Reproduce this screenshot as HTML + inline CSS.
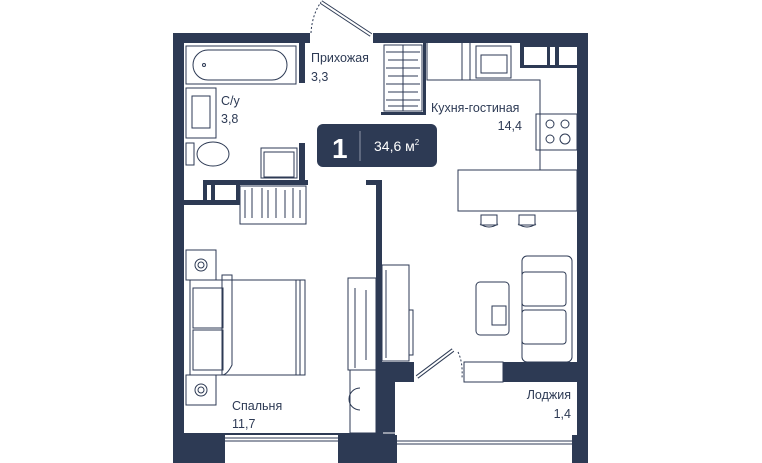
<!DOCTYPE html>
<html><head><meta charset="utf-8"><style>
html,body{margin:0;padding:0;background:#fff;width:762px;height:463px;overflow:hidden}
svg{display:block}
text{font-family:"Liberation Sans",sans-serif;fill:#2d3a54;font-size:12.5px}
</style></head><body>
<svg width="762" height="463" viewBox="0 0 762 463" xmlns="http://www.w3.org/2000/svg">
<g fill="#2d3a54">
<!-- outer walls -->
<rect x="173" y="33" width="137" height="10"/>
<rect x="373" y="33" width="215" height="10"/>
<rect x="173" y="33" width="11" height="430"/>
<rect x="577" y="33" width="11" height="430"/>
<rect x="520" y="43" width="57" height="25"/>
<rect x="173" y="433" width="210" height="30"/>
<rect x="173" y="435" width="415" height="28"/>
<!-- bath partitions -->
<rect x="299" y="43" width="6" height="40"/>
<rect x="299" y="143" width="6" height="42"/>
<rect x="203" y="180" width="105" height="5"/>
<rect x="184" y="200" width="56" height="5"/>
<rect x="203" y="180" width="4" height="25"/>
<rect x="211" y="180" width="4" height="25"/>
<rect x="236" y="180" width="4" height="25"/>
<!-- hallway/bedroom wall -->
<rect x="366" y="180" width="15" height="5"/>
<rect x="376" y="180" width="6" height="283"/>
<!-- loggia surroundings -->
<rect x="377" y="362" width="37" height="20"/>
<rect x="377" y="362" width="18" height="101"/>
<rect x="503" y="362" width="74" height="20"/>
<!-- wardrobe edge -->
<rect x="423" y="43" width="3" height="72"/>
<rect x="381" y="112" width="45" height="3"/>
</g>
<g fill="#fff">
<rect x="524" y="47" width="23" height="18"/>
<rect x="550" y="47" width="5" height="18"/>
<rect x="559" y="47" width="18" height="18"/>
<rect x="208" y="185" width="2" height="15"/>
<rect x="216" y="185" width="19" height="15"/>
<rect x="225" y="435" width="113" height="28"/>
<rect x="397" y="435" width="175" height="28"/>
<rect x="395" y="382" width="182" height="53"/>
</g>
<g fill="none" stroke="#2d3a54" stroke-width="1">
<line x1="225" y1="438" x2="338" y2="438"/><line x1="225" y1="441" x2="338" y2="441"/>
<line x1="397" y1="441" x2="572" y2="441"/><line x1="397" y1="444" x2="572" y2="444"/>
<line x1="383" y1="433" x2="577" y2="433" stroke="#fff"/>
<!-- entrance door -->
<line x1="321" y1="2" x2="371" y2="35" stroke-width="4"/>
<line x1="321" y1="2" x2="371" y2="35" stroke="#fff" stroke-width="2"/>
<path d="M311 33 Q312 15 321 2" stroke-dasharray="2 2"/>
<!-- bath -->
<rect x="186" y="46" width="110" height="38"/>
<rect x="193" y="50" width="94" height="30" rx="15"/>
<circle cx="204" cy="65" r="1.5"/>
<!-- sink -->
<rect x="186" y="88" width="30" height="50"/>
<rect x="192" y="96" width="18" height="32"/>
<!-- toilet -->
<rect x="186" y="143" width="8" height="22"/>
<ellipse cx="213" cy="154" rx="16" ry="12"/>
<!-- washer -->
<rect x="261" y="148" width="36" height="30"/>
<rect x="264" y="152" width="30" height="25"/>
<rect x="240" y="186" width="66" height="38"/>
<path d="M245 190v28M252 188v30M262 188v30M268 190v28M276 188v30M285 190v28M293 188v30M300 190v28"/>
<!-- wardrobe hallway -->
<rect x="384" y="45" width="38" height="66"/>
<path d="M386 52h34M388 60h30M386 68h34M388 76h30M386 84h34M388 92h30M386 100h34M388 106h30M403 45v66"/>
<!-- kitchen -->
<path d="M427 43V80H540V170"/>
<path d="M427 80v-37M462 43v37M470 43v37"/>
<rect x="476" y="46" width="35" height="32"/>
<rect x="481" y="55" width="26" height="18"/>
<rect x="536" y="114" width="41" height="36"/>
<circle cx="550" cy="124" r="4"/><circle cx="565" cy="124" r="4"/>
<circle cx="550" cy="139" r="4"/><circle cx="565" cy="139" r="5"/>
<rect x="458" y="170" width="119" height="41"/>
<path d="M481 215h16v10h-16zM519 215h16v10h-16zM480 224q9 6 18 0M518 224q9 6 18 0"/>
<!-- sofa, table -->
<rect x="522" y="256" width="50" height="106" rx="5"/>
<rect x="522" y="272" width="44" height="34" rx="3"/>
<rect x="522" y="310" width="44" height="34" rx="3"/>
<rect x="476" y="282" width="33" height="53" rx="4"/>
<rect x="492" y="306" width="14" height="19"/>
<!-- tv unit -->
<rect x="382" y="265" width="27" height="96"/>
<path d="M386 270v88M409 310h4v45h-4"/>
<!-- loggia door -->
<line x1="417" y1="377" x2="453" y2="350" stroke-width="4"/>
<line x1="417" y1="377" x2="453" y2="350" stroke="#fff" stroke-width="2"/>
<path d="M458 352 Q463 362 462 378" stroke-dasharray="2 2"/>
<rect x="464" y="362" width="39" height="20"/>
<!-- bed -->
<rect x="186" y="250" width="30" height="30"/>
<circle cx="201" cy="265" r="6"/><circle cx="201" cy="265" r="3"/>
<rect x="186" y="375" width="30" height="30"/>
<circle cx="201" cy="390" r="6"/><circle cx="201" cy="390" r="3"/>
<rect x="190" y="280" width="115" height="95"/>
<path d="M193 288h30v40h-30zM193 330h30v40h-30z"/>
<path d="M222 275h10v90q-5 10-10 10z"/>
<path d="M296 280v95M300 280v95"/>
<!-- desk -->
<rect x="348" y="278" width="28" height="92"/>
<rect x="350" y="370" width="26" height="63"/>
<path d="M355 288v80M366 290v70M360 388a11 11 0 0 0 0 22"/>
</g>
<!-- badge -->
<rect x="317" y="124" width="120" height="43" rx="6" fill="#2d3a54"/>
<text x="332" y="158" style="fill:#fff;font-size:28px;font-weight:bold">1</text>
<line x1="360" y1="131" x2="360" y2="161" stroke="#8f97a8" stroke-width="1"/>
<text x="374" y="151" style="fill:#fff;font-size:14px">34,6 м<tspan dy="-6" style="font-size:8px">2</tspan></text>
<!-- labels -->
<text x="311" y="62">Прихожая</text><text x="311" y="81">3,3</text>
<text x="221" y="105">С/у</text><text x="221" y="123">3,8</text>
<text x="431" y="112">Кухня-гостиная</text><text x="522" y="130" text-anchor="end">14,4</text>
<text x="232" y="410">Спальня</text><text x="232" y="428">11,7</text>
<text x="571" y="399" text-anchor="end">Лоджия</text><text x="571" y="418" text-anchor="end">1,4</text>
</svg>
</body></html>
